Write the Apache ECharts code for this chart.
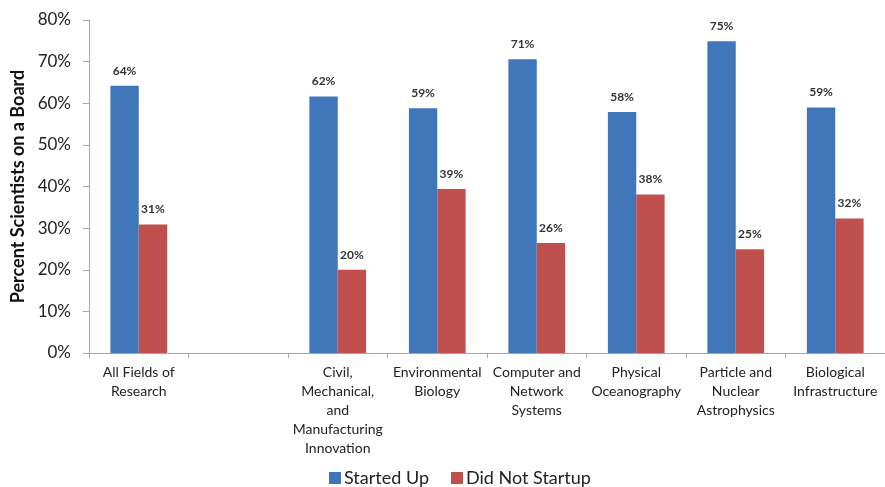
<!DOCTYPE html>
<html>
<head>
<meta charset="utf-8">
<script src="https://cdn.jsdelivr.net/npm/echarts@6/dist/echarts.min.js"></script>
<style>html,body{margin:0;padding:0;background:#fff}#c{width:885px;height:487px}</style>
</head>
<body>
<div id="c"></div>
<script>
const categories = [
  "All Fields of\nResearch",
  "",
  "Civil,\nMechanical,\nand\nManufacturing\nInnovation",
  "Environmental\nBiology",
  "Computer and\nNetwork\nSystems",
  "Physical\nOceanography",
  "Particle and\nNuclear\nAstrophysics",
  "Biological\nInfrastructure"
];
const startedUp = [64.2, null, 61.6, 58.8, 70.6, 57.9, 74.9, 59.0];
const didNotStartup = [30.9, null, 20.0, 39.4, 26.4, 38.1, 24.9, 32.3];
const seriesNames = ["Started Up", "Did Not Startup"];
const yTicks = [0, 10, 20, 30, 40, 50, 60, 70, 80];

const FONT = "Lato";
const chart = echarts.init(document.getElementById('c'), null, {renderer: 'canvas'});
const labelCfg = {
  show: true, position: 'top', distance: 9,
  formatter: p => p.value == null ? '' : Math.round(p.value) + '%',
  fontFamily: FONT, fontSize: 12, fontWeight: 'bold', color: '#333'
};
chart.setOption({
  animation: false,
  textStyle: {fontFamily: FONT},
  grid: {left: 89, top: 20, width: 802, bottom: 134, containLabel: false},
  legend: {
    top: 464, left: 324, padding: 5,
    itemWidth: 12, itemHeight: 12, itemGap: 22,
    icon: 'rect',
    textStyle: {fontFamily: FONT, fontSize: 18, color: '#222', padding: [0, 0, 0, -2]},
    data: seriesNames
  },
  xAxis: {
    type: 'category', data: categories,
    axisLine: {lineStyle: {color: '#a6a6a6', width: 1}},
    axisTick: {show: true, length: 5, interval: 0, lineStyle: {color: '#a6a6a6'}},
    axisLabel: {interval: 0, margin: 10, fontFamily: FONT, fontSize: 14, lineHeight: 19, color: '#222'}
  },
  yAxis: {
    type: 'value', min: yTicks[0], max: yTicks[yTicks.length - 1], interval: 10,
    name: 'Percent Scientists on a Board', nameLocation: 'middle', nameGap: 62,
    nameTextStyle: {fontFamily: FONT, fontSize: 18, fontWeight: 'bold', color: '#111'},
    axisLine: {show: true, lineStyle: {color: '#a6a6a6', width: 1}},
    axisTick: {show: true, length: 6, lineStyle: {color: '#a6a6a6'}},
    splitLine: {show: false},
    axisLabel: {formatter: v => v + '%', margin: 18, fontFamily: FONT, fontSize: 17, color: '#222'}
  },
  series: [
    {name: seriesNames[0], type: 'bar', data: startedUp, barGap: '0%', barCategoryGap: '43%',
     itemStyle: {color: '#4076BA'}, label: labelCfg},
    {name: seriesNames[1], type: 'bar', data: didNotStartup,
     itemStyle: {color: '#C0504D'}, label: labelCfg}
  ]
});
</script>
</body>
</html>
